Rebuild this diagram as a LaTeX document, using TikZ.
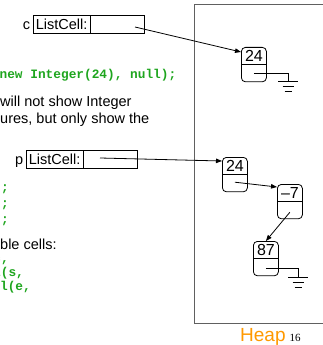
\documentclass[tikz,border=0pt]{standalone}
\usepackage{fontspec}
\setmainfont{Liberation Sans}
\newfontfamily\codefont{Liberation Mono}
\newfontfamily\numfont{Liberation Serif}
\usetikzlibrary{shapes.multipart,arrows.meta,positioning}

\definecolor{codegreen}{RGB}{30,165,30}
\definecolor{heaporange}{RGB}{255,153,0}
\definecolor{framegray}{RGB}{96,96,96}

\tikzset{
  refbox/.style={rectangle split, rectangle split horizontal, rectangle split parts=2,
    draw, line width=0.8pt, inner xsep=2.5pt, inner ysep=3.8pt,
    rectangle split empty part width=43pt, rectangle split empty part height=10.4pt,
    rectangle split empty part depth=0pt, font=\fontsize{14.5}{17}\selectfont},
  cell/.style={rectangle, draw, line width=0.8pt, rounded corners=4pt,
    minimum width=25pt, inner xsep=3pt, inner ysep=2.8pt,
    text height=11.5pt, text depth=17.3pt, font=\fontsize{16}{18}\selectfont,
    path picture={\draw[line width=0.8pt] (path picture bounding box.west) -- (path picture bounding box.east);}},
  prose/.style={anchor=base west, inner sep=0pt, font=\fontsize{14.5}{17}\selectfont},
  code/.style={anchor=base west, inner sep=0pt, text=codegreen,
    font=\codefont\bfseries\fontsize{12.8}{15}\selectfont},
  ptr/.style={line width=0.8pt, -{Triangle[length=6pt,width=4.5pt]}},
  nullptr/.style={line width=0.8pt}
}

% ground symbol hanging under a coordinate
\newcommand\groundsym[1]{%
  \draw[nullptr] (#1) ++(-10,0) -- ++(20,0) ++(-15.5,5) -- ++(11,0) ++(-9,5) -- ++(7,0);}

\begin{document}
\begin{tikzpicture}[x=1pt,y=-1pt]
  \useasboundingbox (0,0) rectangle (322,345);

  % the code and the words beside it
  \node[code, anchor=base east] (newint) at (176.5,78) {new Integer(24), null);};
  \node[prose] (txtone) at (0,106) {will not show Integer};
  \node[prose] (txttwo) at (0,123) {ures, but only show the};
  \node[code] (semione) at (1,191) {;};
  \node[code] (semitwo) at (1,207) {;};
  \node[code] (semithree) at (1,223) {;};
  \node[prose] (txtthree) at (0,249) {ble cells:};
  \node[code] (codeone) at (-6.7,262) {c,};
  \node[code] (codetwo) at (-7,276) {l(s,};
  \node[code] (codethree) at (-7.8,290) {ll(e,};

  % the two references
  \node[refbox, anchor=north west] (c) at (33,15) {ListCell:\nodepart{two}};
  \node[anchor=base east, inner sep=0pt, font=\fontsize{14.5}{17}\selectfont] (clab) at ([xshift=-5.5pt]c.one) {c};
  \node[refbox, anchor=north west] (p) at (26,150) {ListCell:\nodepart{two}};
  \node[anchor=base east, inner sep=0pt, font=\fontsize{14.5}{17}\selectfont] (plab) at ([xshift=-5.5pt]p.one) {p};
  \coordinate (cptr) at (135,27);
  \coordinate (pptr) at (100,158);

  % the heap
  \draw[framegray, line width=1pt] (194,5) rectangle (340,323);
  \node[anchor=base west, inner sep=0pt, text=heaporange, font=\fontsize{19}{22}\selectfont] (heaplab) at (240,341) {Heap};
  \node[base right=3.5pt of heaplab, inner sep=0pt, font=\numfont\fontsize{11}{13}\selectfont] (pgno) {16};

  \node[cell, anchor=north west] (hone) at (241,47) {24};
  \node[cell, anchor=north west] (htwo) at (222,157) {24};
  \node[cell, anchor=north west] (hthree) at (277,184) {--7};
  \node[cell, anchor=north west] (hfour) at (253,241) {87};
  \coordinate (gone) at (288,81);
  \coordinate (gfour) at (298,277);

  \draw[ptr] (cptr) -- ([yshift=-5pt]hone.north west);
  \draw[ptr] (pptr) -- ([yshift=-4pt]htwo.north west);
  \draw[ptr] ([yshift=10pt]htwo.south) -- ([yshift=-3pt]hthree.north west);
  \draw[ptr] ([yshift=7pt]hthree.south) -- (hfour.north);
  \draw[nullptr] ([yshift=9pt]hone.south) -| (gone);
  \draw[nullptr] ([yshift=8pt]hfour.south) -| (gfour);
  \groundsym{gone}
  \groundsym{gfour}
\end{tikzpicture}
\end{document}
